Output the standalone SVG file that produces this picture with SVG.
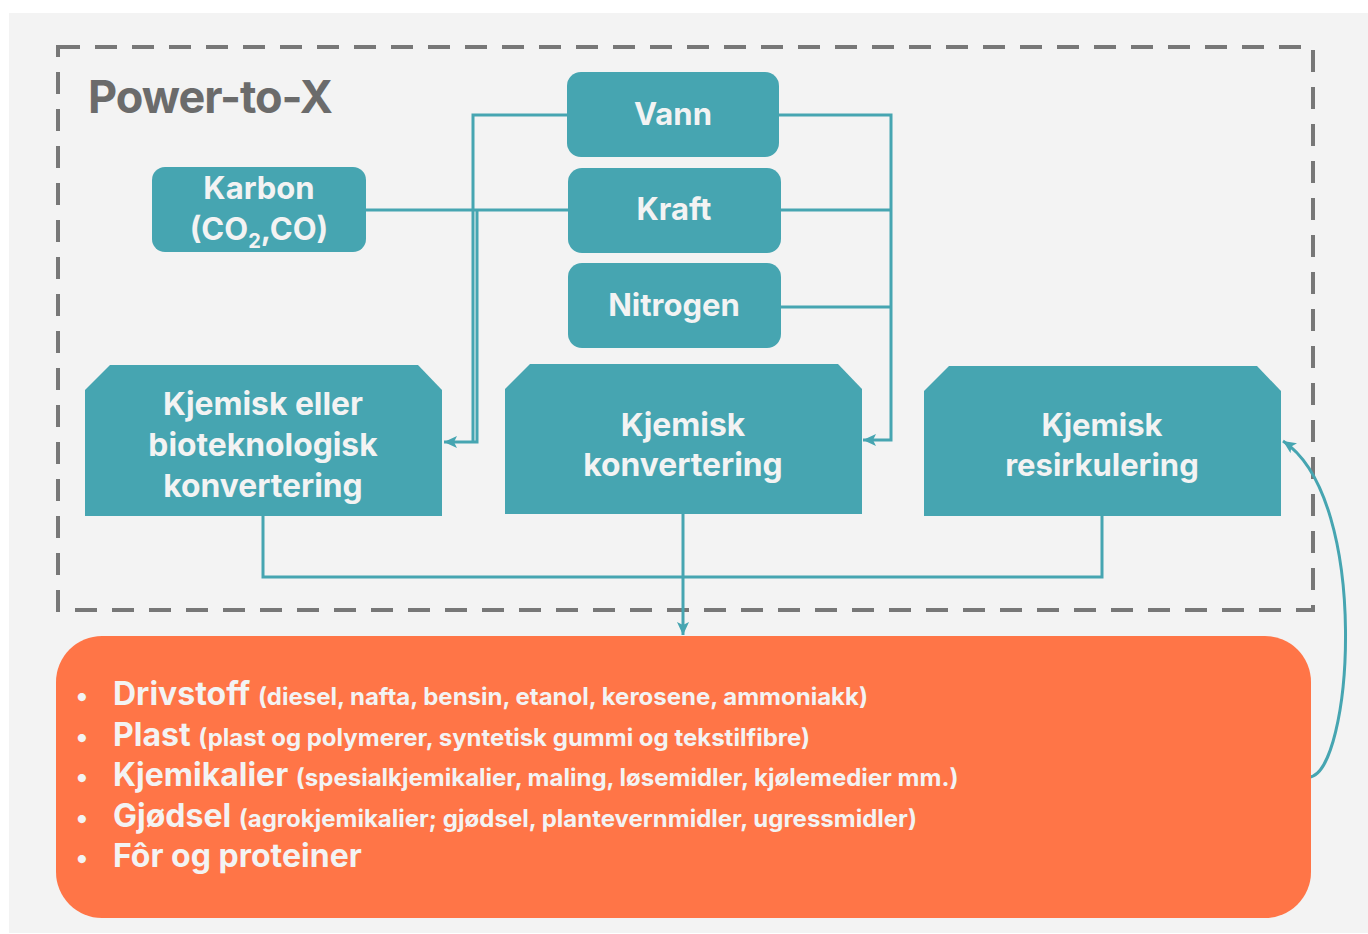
<svg xmlns="http://www.w3.org/2000/svg" width="1368" height="934" viewBox="0 0 1368 934">
<style>
.node{fill:#46a5b1}
.t{font-family:Inter,"Liberation Sans",sans-serif;font-weight:700;fill:#f3f3f3;text-anchor:middle;font-size:31px}
.big{font-size:31.8px}
.c{fill:none;stroke:#46a5b1;stroke-width:3}
.b{font-family:Inter,"Liberation Sans",sans-serif;font-weight:700;fill:#f3f3f3;font-size:32px}
.s{font-size:24px}
.dot{font-size:26px;text-anchor:middle}
</style>
<defs>
<marker id="ah" markerWidth="14" markerHeight="12" refX="13" refY="6" orient="auto" markerUnits="userSpaceOnUse">
<path d="M0,0 L13,6 L0,12 L3,6 z" fill="#46a5b1"/>
</marker>
</defs>
<rect x="0" y="0" width="1368" height="934" fill="#ffffff"/>
<rect x="9" y="13" width="1359" height="920" fill="#f3f3f3"/>
<rect id="frame" x="58" y="47" width="1255" height="563" fill="none" stroke="#777777" stroke-width="4" stroke-dasharray="22 15"/>
<text id="title" x="88" y="113" font-family="Inter,'Liberation Sans',sans-serif" font-weight="700" font-size="45" letter-spacing="-1" fill="#6b6b6b">Power-to-X</text>

<g id="connectors">
<path class="c" d="M567 115 H473 V442"/>
<path class="c" d="M366 210 H568"/>
<path class="c" d="M477 210 V442 H444" marker-end="url(#ah)"/>
<path class="c" d="M779 115 H891 V440 H863" marker-end="url(#ah)"/>
<path class="c" d="M781 210 H891"/>
<path class="c" d="M781 307 H891"/>
<path class="c" d="M263 516 V577 H1102 V516"/>
<path class="c" d="M683 514 V635" marker-end="url(#ah)"/>
<path class="c" d="M1309 777 C1352 775 1372 500 1283 441" marker-end="url(#ah)"/>
</g>

<g id="karbon">
<rect class="node" x="152" y="167" width="214" height="85" rx="13"/>
<text class="t" x="259" y="199">Karbon</text>
<text class="t" x="259" y="240">(CO<tspan font-size="20" dy="8">2</tspan><tspan dy="-8">,CO)</tspan></text>
</g>
<g id="vann">
<rect class="node" x="567" y="72" width="212" height="85" rx="14"/>
<text class="t" x="673" y="125">Vann</text>
</g>
<g id="kraft">
<rect class="node" x="568" y="168" width="213" height="85" rx="14"/>
<text class="t" x="674" y="220">Kraft</text>
</g>
<g id="nitrogen">
<rect class="node" x="568" y="263" width="213" height="85" rx="14"/>
<text class="t" x="674" y="316">Nitrogen</text>
</g>
<g id="bio">
<path class="node" d="M85 390 L110 365 H418 L442 390 V516 H85 Z"/>
<text class="t big" x="263" y="415">Kjemisk eller</text>
<text class="t big" x="263" y="456">bioteknologisk</text>
<text class="t big" x="263" y="497">konvertering</text>
</g>
<g id="kjemisk">
<path class="node" d="M505 389 L530 364 H838 L862 389 V514 H505 Z"/>
<text class="t big" x="683" y="436">Kjemisk</text>
<text class="t big" x="683" y="476">konvertering</text>
</g>
<g id="resirk">
<path class="node" d="M924 391 L949 366 H1257 L1281 391 V516 H924 Z"/>
<text class="t" x="1102" y="436">Kjemisk</text>
<text class="t" x="1102" y="476">resirkulering</text>
</g>
<g id="produkter">
<rect x="56" y="636" width="1255" height="282" rx="46" fill="#ff7547"/>
<g class="b">
<text class="dot" x="82" y="705">•</text><text x="113" y="705">Drivstoff <tspan class="s">(diesel, nafta, bensin, etanol, kerosene, ammoniakk)</tspan></text>
<text class="dot" x="82" y="746">•</text><text x="113" y="746">Plast <tspan class="s">(plast og polymerer, syntetisk gummi og tekstilfibre)</tspan></text>
<text class="dot" x="82" y="786">•</text><text x="113" y="786">Kjemikalier <tspan class="s">(spesialkjemikalier, maling, løsemidler, kjølemedier mm.)</tspan></text>
<text class="dot" x="82" y="827">•</text><text x="113" y="827">Gjødsel <tspan class="s">(agrokjemikalier; gjødsel, plantevernmidler, ugressmidler)</tspan></text>
<text class="dot" x="82" y="867">•</text><text x="113" y="867">Fôr og proteiner</text>
</g>
</g>
</svg>
